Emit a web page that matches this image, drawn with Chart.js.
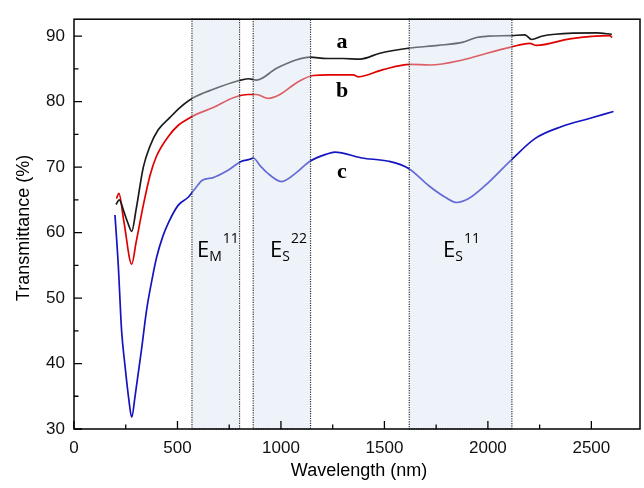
<!DOCTYPE html>
<html>
<head>
<meta charset="utf-8">
<script src="https://cdn.jsdelivr.net/npm/chart.js@4"></script>
<style>
  html, body { margin: 0; padding: 0; background: #fff; }
  #wrap { width: 644px; height: 488px; }
</style>
</head>
<body>
<div id="wrap"><canvas id="c" width="644" height="488"></canvas></div>
<script>
'use strict';

// curve a (black)
var aWave = [203, 219, 241, 260, 279, 300, 335, 367, 407, 464, 512, 576, 673, 794, 842, 882, 979, 1076, 1140, 1221, 1300, 1382, 1478, 1623, 1760, 1881, 1900, 1945, 2000, 2116, 2179, 2211, 2260, 2325, 2525, 2599];
var aTrans = [64.3, 65.0, 63.2, 61.5, 60.2, 63.5, 70.0, 73.2, 75.7, 77.6, 79.1, 80.6, 81.9, 83.2, 83.5, 83.3, 85.1, 86.4, 86.8, 86.6, 86.6, 86.5, 87.4, 88.2, 88.6, 89.1, 89.3, 89.8, 90.0, 90.1, 90.2, 89.5, 90.0, 90.3, 90.5, 90.3];

// curve b (red)
var bWave = [205, 217, 241, 279, 300, 335, 367, 399, 456, 504, 552, 593, 673, 770, 842, 882, 939, 995, 1076, 1156, 1237, 1349, 1373, 1494, 1623, 1720, 1881, 1961, 2106, 2203, 2235, 2396, 2589, 2600];
var bTrans = [65.2, 66.0, 61.7, 55.2, 58.5, 64.2, 68.7, 71.7, 74.7, 76.4, 77.4, 78.1, 79.1, 80.6, 81.1, 81.1, 80.5, 81.1, 82.9, 84.0, 84.1, 84.1, 83.8, 84.9, 85.7, 85.6, 86.4, 87.1, 88.3, 88.9, 88.6, 89.6, 90.1, 89.8];

// curve c (blue)
var cWave = [198, 214, 230, 246, 265, 279, 295, 327, 350, 375, 399, 430, 456, 504, 552, 585, 620, 673, 738, 810, 850, 866, 900, 931, 1003, 1076, 1140, 1221, 1260, 1391, 1520, 1617, 1713, 1794, 1850, 1907, 1987, 2116, 2229, 2357, 2486, 2607];
var cTrans = [62.7, 55.0, 45.0, 39.8, 34.5, 31.8, 35.0, 42.3, 48.0, 52.5, 56.2, 59.5, 61.5, 64.2, 65.4, 66.7, 68.0, 68.4, 69.4, 70.9, 71.2, 71.4, 70.2, 69.2, 67.8, 69.2, 70.9, 72.0, 72.3, 71.4, 70.9, 69.8, 67.2, 65.4, 64.6, 65.2, 67.2, 71.2, 74.4, 76.2, 77.4, 78.5];

var xTicks = [0, 500, 1000, 1500, 2000, 2500];
var yTicks = [30, 40, 50, 60, 70, 80, 90];

// shaded transition bands (nm)
var bandStart = [570, 866, 1620];
var bandEnd = [800, 1143, 2116];
var bandMain = ['E', 'E', 'E'];
var bandSub = ['M', 'S', 'S'];
var bandSup = ['11', '22', '11'];
var bandLabelX = [594, 947, 1783];
var bandLabelY = 56.3;

var curveNames = ['a', 'b', 'c'];
var curveLabelX = 1295;
var curveLabelY = [89.1, 81.6, 69.2];

function pts(xs, ys) {
  return xs.map(function (x, i) { return { x: x, y: ys[i] }; });
}

var overlay = {
  id: 'overlay',
  afterDatasetsDraw: function (chart) {
    var ctx = chart.ctx;
    var area = chart.chartArea;
    var xs = chart.scales.x, ys = chart.scales.y;
    ctx.save();

    // bands
    bandStart.forEach(function (s, i) {
      var l = xs.getPixelForValue(s), r = xs.getPixelForValue(bandEnd[i]);
      ctx.fillStyle = 'rgba(214,227,243,0.42)';
      ctx.fillRect(l, area.top, r - l, area.bottom - area.top);
      ctx.strokeStyle = '#333';
      ctx.lineWidth = 1.2;
      ctx.setLineDash([1.2, 1.2]);
      ctx.strokeRect(l, area.top, r - l, area.bottom - area.top);
    });
    ctx.setLineDash([]);

    // frame
    ctx.strokeStyle = '#000';
    ctx.lineWidth = 1.5;
    ctx.strokeRect(area.left, area.top, area.right - area.left, area.bottom - area.top);

    // inward ticks
    ctx.lineWidth = 1.3;
    ctx.beginPath();
    for (var v = 0; v <= 2750; v += 250) {
      var px = xs.getPixelForValue(v);
      if (px > area.right - 1) break;
      var len = v % 500 === 0 ? 8 : 4.5;
      ctx.moveTo(px, area.bottom);
      ctx.lineTo(px, area.bottom - len);
    }
    for (var w = 30; w <= 92; w += 5) {
      var py = ys.getPixelForValue(w);
      var len2 = w % 10 === 0 ? 8 : 4.5;
      ctx.moveTo(area.left, py);
      ctx.lineTo(area.left + len2, py);
    }
    ctx.stroke();

    // curve labels
    ctx.fillStyle = '#000';
    ctx.font = 'bold 22px "Liberation Serif", "DejaVu Serif", serif';
    ctx.textAlign = 'center';
    ctx.textBaseline = 'middle';
    curveNames.forEach(function (n, i) {
      ctx.fillText(n, xs.getPixelForValue(curveLabelX), ys.getPixelForValue(curveLabelY[i]));
    });

    // band labels
    ctx.textAlign = 'left';
    ctx.textBaseline = 'alphabetic';
    bandMain.forEach(function (m, i) {
      var x0 = xs.getPixelForValue(bandLabelX[i]);
      var y0 = ys.getPixelForValue(bandLabelY);
      ctx.font = '22px "Open Sans", "Liberation Sans", sans-serif';
      ctx.fillText(m, x0, y0);
      var mw = ctx.measureText(m).width;
      ctx.font = '14px "Open Sans", "Liberation Sans", sans-serif';
      ctx.fillText(bandSub[i], x0 + mw, y0 + 4);
      var sw = ctx.measureText(bandSub[i]).width;
      ctx.fillText(bandSup[i], x0 + mw + sw + 1, y0 - 14);
    });

    // axis titles
    ctx.font = '18px "Liberation Sans", Arial, sans-serif';
    ctx.textAlign = 'center';
    ctx.textBaseline = 'middle';
    ctx.fillText('Wavelength (nm)', (area.left + area.right) / 2 + 2, 471);
    ctx.translate(24, 228);
    ctx.rotate(-Math.PI / 2);
    ctx.fillText('Transmittance (%)', 0, 0);

    ctx.restore();
  }
};

var lineStyle = { borderWidth: 1.7, pointRadius: 0, cubicInterpolationMode: 'monotone', fill: false };

var chart = new Chart(document.getElementById('c').getContext('2d'), {
  type: 'line',
  data: {
    datasets: [
      Object.assign({ label: 'a', data: pts(aWave, aTrans), borderColor: '#1a1a1a' }, lineStyle),
      Object.assign({ label: 'b', data: pts(bWave, bTrans), borderColor: '#e00000' }, lineStyle),
      Object.assign({ label: 'c', data: pts(cWave, cTrans), borderColor: '#1414c0' }, lineStyle)
    ]
  },
  options: {
    responsive: false,
    animation: false,
    devicePixelRatio: 1,
    layout: { padding: { top: 10, right: 4, left: 0, bottom: 0 } },
    plugins: { legend: { display: false }, tooltip: { enabled: false } },
    scales: {
      x: {
        type: 'linear',
        min: 0,
        max: 2735,
        grid: { display: false, drawTicks: false },
        border: { display: false },
        afterBuildTicks: function (s) { s.ticks = xTicks.map(function (v) { return { value: v }; }); },
        afterFit: function (s) { s.height = 59; },
        ticks: {
          padding: 9,
          color: '#111',
          maxRotation: 0,
          callback: function (v) { return String(v); },
          font: { family: '"Liberation Sans", Arial, sans-serif', size: 17 }
        }
      },
      y: {
        type: 'linear',
        min: 30,
        max: 92.6,
        grid: { display: false, drawTicks: false },
        border: { display: false },
        afterBuildTicks: function (s) { s.ticks = yTicks.map(function (v) { return { value: v }; }); },
        afterFit: function (s) { s.width = 74; },
        ticks: {
          padding: 9,
          color: '#111',
          callback: function (v) { return String(v); },
          font: { family: '"Liberation Sans", Arial, sans-serif', size: 17 }
        }
      }
    }
  },
  plugins: [overlay]
});
</script>
</body>
</html>
